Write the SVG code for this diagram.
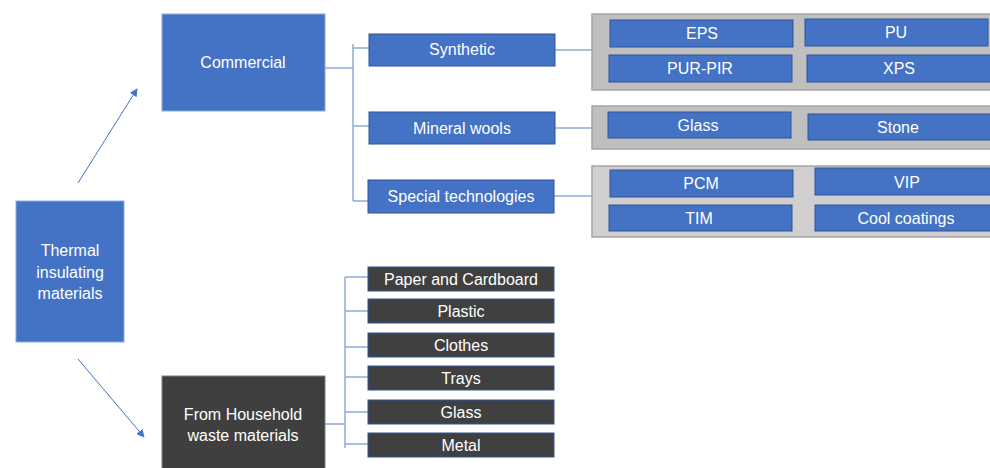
<svg xmlns="http://www.w3.org/2000/svg" width="990" height="468" viewBox="0 0 990 468">
<style>
text{font-family:"Liberation Sans",Arial,sans-serif;font-size:16px;fill:#ffffff;text-anchor:middle}
.b{fill:#4472c4;stroke:#2f5597;stroke-width:1}
.bm{fill:#4472c4;stroke:#8faadc;stroke-width:1}
.d{fill:#404040;stroke:#2f5597;stroke-width:1}
.dm{fill:#3f3f3f;stroke:#7f7f7f;stroke-width:1}
.p{fill:#bfbfbf;stroke:#a5a5a5;stroke-width:1.5}
.p3{fill:#d0cece;stroke:#a5a5a5;stroke-width:1.5}
.c{fill:none;stroke:#8faadc;stroke-width:1.5}
.a{fill:none;stroke:#4472c4;stroke-width:1}
</style>
<defs>
<marker id="ah" viewBox="0 0 10 10" refX="9" refY="5" markerWidth="8" markerHeight="8" orient="auto" markerUnits="userSpaceOnUse">
<path d="M0,0 L10,5 L0,10 z" fill="#4472c4"/>
</marker>
</defs>
<rect width="990" height="468" fill="#ffffff"/>
<g id="connectors">
<line class="a" x1="78" y1="183" x2="137" y2="89" marker-end="url(#ah)"/>
<line class="a" x1="78" y1="359" x2="144" y2="437" marker-end="url(#ah)"/>
<path class="c" d="M325,68 H353 M353,44 V201 M353,48 H369 M353,126 H369 M353,201 H368"/>
<path class="c" d="M555,50 H592 M555,128 H592 M554,196 H592"/>
<path class="c" d="M325,424 H345 M345,277 V448 M345,277 H368 M345,311 H368 M345,347 H368 M345,377 H368 M345,412 H368 M345,444 H368"/>
</g>
<g id="thermal"><rect class="bm" x="16" y="201" width="108" height="141"/>
<text x="70" y="256">Thermal</text><text x="70" y="278">insulating</text><text x="70" y="299">materials</text></g>
<g id="commercial"><rect class="bm" x="162" y="14" width="163" height="97"/><text x="243" y="68">Commercial</text></g>
<g id="household"><rect class="dm" x="162" y="376" width="163" height="95"/>
<text x="243" y="420">From Household</text><text x="243" y="441">waste materials</text></g>
<g id="synthetic"><rect class="b" x="369" y="34" width="186" height="32"/><text x="462" y="55">Synthetic</text></g>
<g id="mineral"><rect class="b" x="369" y="112" width="186" height="32"/><text x="462" y="134">Mineral wools</text></g>
<g id="special"><rect class="b" x="368" y="180" width="186" height="33"/><text x="461" y="202">Special technologies</text></g>
<g id="panel-synthetic"><rect class="p" x="592" y="14" width="400" height="76"/>
<rect class="b" x="610" y="20" width="183" height="27"/><text x="702" y="39">EPS</text>
<rect class="b" x="805" y="19" width="183" height="27"/><text x="896" y="38">PU</text>
<rect class="b" x="609" y="55" width="183" height="27"/><text x="700" y="74">PUR-PIR</text>
<rect class="b" x="807" y="55" width="186" height="27"/><text x="899" y="74">XPS</text></g>
<g id="panel-mineral"><rect class="p" x="592" y="106" width="400" height="43"/>
<rect class="b" x="608" y="112" width="183" height="26"/><text x="698" y="131">Glass</text>
<rect class="b" x="808" y="114" width="185" height="26"/><text x="898" y="133">Stone</text></g>
<g id="panel-special"><rect class="p3" x="592" y="166" width="400" height="71"/>
<rect class="b" x="610" y="170" width="183" height="27"/><text x="701" y="189">PCM</text>
<rect class="b" x="815" y="168" width="178" height="27"/><text x="907" y="188">VIP</text>
<rect class="b" x="609" y="205" width="183" height="26"/><text x="699" y="224">TIM</text>
<rect class="b" x="815" y="205" width="178" height="26"/><text x="906" y="224">Cool coatings</text></g>
<g id="paper"><rect class="d" x="368" y="267" width="186" height="24"/><text x="461" y="285">Paper and Cardboard</text></g>
<g id="plastic"><rect class="d" x="368" y="299" width="186" height="24"/><text x="461" y="317">Plastic</text></g>
<g id="clothes"><rect class="d" x="368" y="333" width="186" height="24"/><text x="461" y="351">Clothes</text></g>
<g id="trays"><rect class="d" x="368" y="366" width="186" height="24"/><text x="461" y="384">Trays</text></g>
<g id="glass2"><rect class="d" x="368" y="400" width="186" height="24"/><text x="461" y="418">Glass</text></g>
<g id="metal"><rect class="d" x="368" y="433" width="186" height="24"/><text x="461" y="451">Metal</text></g>
</svg>
